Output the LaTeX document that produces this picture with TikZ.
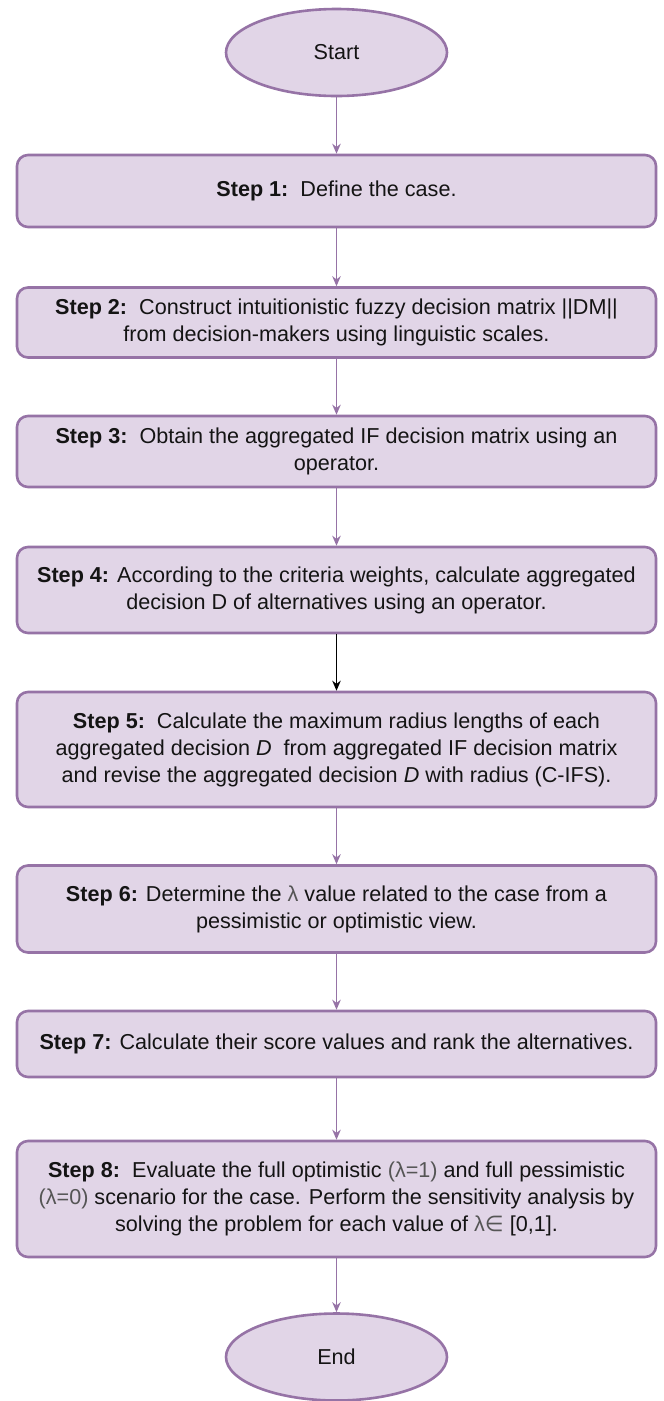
\documentclass[tikz,border=0pt]{standalone}
\usepackage{fontspec}
\setmainfont{Liberation Sans}
\newfontfamily\symfont{DejaVu Sans}
\usetikzlibrary{shapes.geometric,arrows.meta}
\definecolor{boxfill}{HTML}{E1D5E7}
\definecolor{boxdraw}{HTML}{9673A6}
\definecolor{txt}{HTML}{141414}
\definecolor{lam}{HTML}{555555}
\begin{document}
\begin{tikzpicture}[x=1pt,y=-1pt,
  stepbox/.style={draw=boxdraw, fill=boxfill, line width=2.6pt, rounded corners=11pt,
    minimum width=639pt, align=center, font=\fontsize{21.6}{27}\selectfont, text=txt, inner sep=0pt},
  term/.style={ellipse, draw=boxdraw, fill=boxfill, line width=2.6pt, minimum width=221pt,
    minimum height=87pt, font=\fontsize{21.6}{26}\selectfont, text=txt, inner sep=0pt},
  flow/.style={draw=boxdraw, line width=1.4pt, -{Stealth[length=10pt,width=8.5pt]}},
  blackflow/.style={draw=black, line width=1.4pt, -{Stealth[length=10pt,width=8.5pt]}},
]
\useasboundingbox (0,0) rectangle (664,1401);
\fill[white] (0,0) rectangle (664,1401);

\node[term] (start) at (336.5,52.5) {Start};
\node[stepbox, minimum height=72pt] (s1) at (336.5,191) {\textbf{Step 1:}\ \ Define the case.};
\node[stepbox, minimum height=70pt] (s2) at (336.5,322.5) {\textbf{Step 2:}\ \ Construct intuitionistic fuzzy decision matrix ||DM||\\from decision-makers using linguistic scales.};
\node[stepbox, minimum height=71pt] (s3) at (336.5,451.5) {\textbf{Step 3:}\ \ Obtain the aggregated IF decision matrix using an\\operator.};
\node[stepbox, minimum height=86pt] (s4) at (336.5,590) {\textbf{Step 4:} According to the criteria weights, calculate aggregated\\decision D of alternatives using an operator.};
\node[stepbox, minimum height=115pt] (s5) at (336.5,749.5) {\textbf{Step 5:}\ \ Calculate the maximum radius lengths of each\\aggregated decision \textit{D}\ \ from aggregated IF decision matrix\\and revise the aggregated decision \textit{D} with radius (C-IFS).};
\node[stepbox, minimum height=87pt] (s6) at (336.5,909) {\textbf{Step 6:} Determine the {\color{lam}λ} value related to the case from a\\pessimistic or optimistic view.};
\node[stepbox, minimum height=66pt] (s7) at (336.5,1044) {\textbf{Step 7:} Calculate their score values and rank the alternatives.};
\node[stepbox, minimum height=116pt] (s8) at (336.5,1199) {\textbf{Step 8:}\ \ Evaluate the full optimistic {\color{lam}(λ=1)} and full pessimistic\\{\color{lam}(λ=0)} scenario for the case. Perform the sensitivity analysis by\\solving the problem for each value of {\color{lam}λ{\symfont ∈}} [0,1].};
\node[term] (end) at (336.5,1357) {End};

\draw[flow] (start) -- (s1);
\draw[flow] (s1) -- (s2);
\draw[flow] (s2) -- (s3);
\draw[flow] (s3) -- (s4);
\draw[blackflow] (s4) -- (s5);
\draw[flow] (s5) -- (s6);
\draw[flow] (s6) -- (s7);
\draw[flow] (s7) -- (s8);
\draw[flow] (s8) -- (end);
\end{tikzpicture}
\end{document}
